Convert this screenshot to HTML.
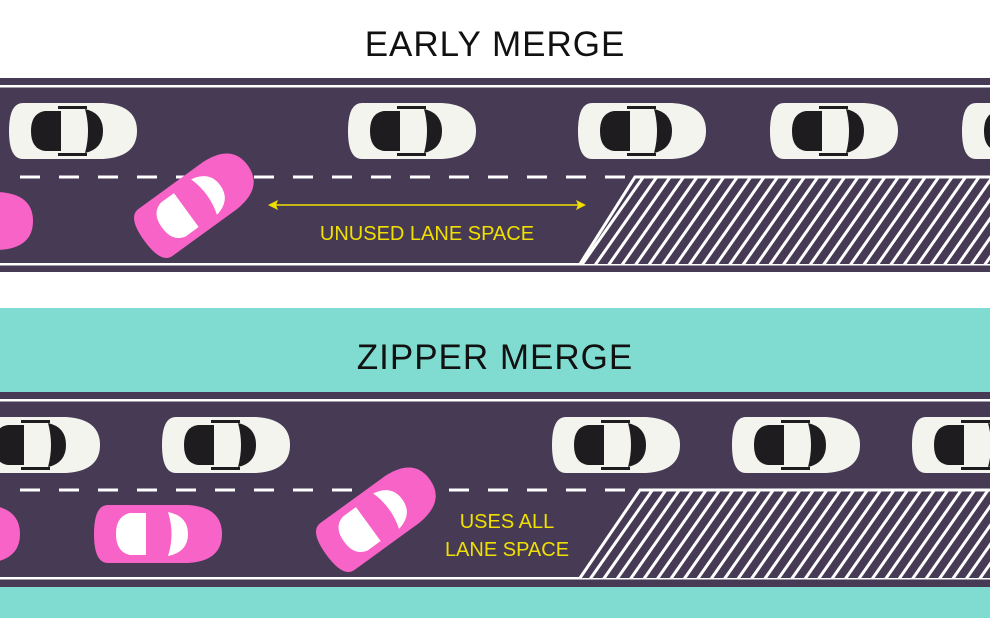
<!DOCTYPE html>
<html><head><style>body{margin:0;width:990px;height:618px;overflow:hidden;background:#fff}</style></head><body>
<svg width="990" height="618" viewBox="0 0 990 618" xmlns="http://www.w3.org/2000/svg">
<defs>
<g id="cw">
<path d="M-50,-28 L30,-28 Q64,-26 64,0 Q64,26 30,28 L-50,28 Q-64,28 -64,0 Q-64,-28 -50,-28Z" fill="#f4f4ef"/>
<path d="M-28,-20 L-12,-20 L-12,20 L-28,20 Q-42,18 -42,0 Q-42,-18 -28,-20Z" fill="#1f1c1f"/>
<path d="M12,-22 Q30,-18 30,0 Q30,18 12,22 Q18,0 12,-22Z" fill="#1f1c1f"/>
<path d="M-15,-25 L14,-25 L14,-22 L-15,-22Z M-15,22 L14,22 L14,25 L-15,25Z" fill="#1f1c1f"/>
</g>
<g id="cp">
<path d="M-50,-29 L30,-29 Q64,-27 64,0 Q64,27 30,29 L-50,29 Q-64,29 -64,0 Q-64,-29 -50,-29Z" fill="#f763c7"/>
<path d="M-28,-21 L-12,-21 L-12,21 L-28,21 Q-42,18 -42,0 Q-42,-18 -28,-21Z" fill="#fff"/>
<path d="M10,-22 Q30,-18 30,0 Q30,18 10,22 Q17,0 10,-22Z" fill="#fff"/>
</g>
<pattern id="h" width="11" height="11" patternUnits="userSpaceOnUse" patternTransform="rotate(35)">
<rect width="11" height="11" fill="#463a54"/><rect width="3" height="11" fill="#fff"/>
</pattern>
</defs>
<rect x="0" y="0" width="990" height="308" fill="#fff"/>
<text x="495" y="56" font-family="Liberation Sans,sans-serif" font-size="35" text-anchor="middle" fill="#111" letter-spacing="1">EARLY MERGE</text>
<rect x="0" y="78" width="990" height="194" fill="#463a54"/>
<rect x="0" y="85" width="990" height="2.5" fill="#fff"/>
<rect x="0" y="263" width="990" height="2.5" fill="#fff"/>
<line x1="20" y1="177" x2="630" y2="177" stroke="#fff" stroke-width="3" stroke-dasharray="20 19"/>
<polygon points="635,177 990,177 990,264 580,264" fill="url(#h)"/>
<polyline points="580,264 635,177 990,177" fill="none" stroke="#fff" stroke-width="3"/>
<use href="#cw" transform="translate(73,131)"/>
<use href="#cw" transform="translate(412,131)"/>
<use href="#cw" transform="translate(642,131)"/>
<use href="#cw" transform="translate(834,131)"/>
<use href="#cw" transform="translate(1026,131)"/>
<use href="#cp" transform="translate(-31,221)"/>
<use href="#cp" transform="translate(196,203) rotate(-36)"/>
<line x1="274" y1="205" x2="580" y2="205" stroke="#f0e000" stroke-width="1.5"/>
<path d="M268,205 L278,200 L276,205 L278,210Z M586,205 L576,200 L578,205 L576,210Z" fill="#f0e000"/>
<text x="427" y="240" font-family="Liberation Sans,sans-serif" font-size="20" text-anchor="middle" fill="#f0e000">UNUSED LANE SPACE</text>

<rect x="0" y="308" width="990" height="310" fill="#80dbd0"/>
<text x="495" y="369" font-family="Liberation Sans,sans-serif" font-size="35" text-anchor="middle" fill="#111" letter-spacing="1">ZIPPER MERGE</text>
<rect x="0" y="392" width="990" height="195" fill="#463a54"/>
<rect x="0" y="399" width="990" height="2.5" fill="#fff"/>
<rect x="0" y="577" width="990" height="2.5" fill="#fff"/>
<line x1="20" y1="490" x2="630" y2="490" stroke="#fff" stroke-width="3" stroke-dasharray="20 19"/>
<polygon points="640,490 990,490 990,578 580,578" fill="url(#h)"/>
<polyline points="580,578 640,490 990,490" fill="none" stroke="#fff" stroke-width="3"/>
<use href="#cw" transform="translate(36,445)"/>
<use href="#cw" transform="translate(226,445)"/>
<use href="#cw" transform="translate(616,445)"/>
<use href="#cw" transform="translate(796,445)"/>
<use href="#cw" transform="translate(976,445)"/>
<use href="#cp" transform="translate(-44,534)"/>
<use href="#cp" transform="translate(158,534)"/>
<use href="#cp" transform="translate(378,517) rotate(-36)"/>
<text x="507" y="528" font-family="Liberation Sans,sans-serif" font-size="20" text-anchor="middle" fill="#f0e000">USES ALL</text>
<text x="507" y="556" font-family="Liberation Sans,sans-serif" font-size="20" text-anchor="middle" fill="#f0e000">LANE SPACE</text>
</svg>
</body></html>
